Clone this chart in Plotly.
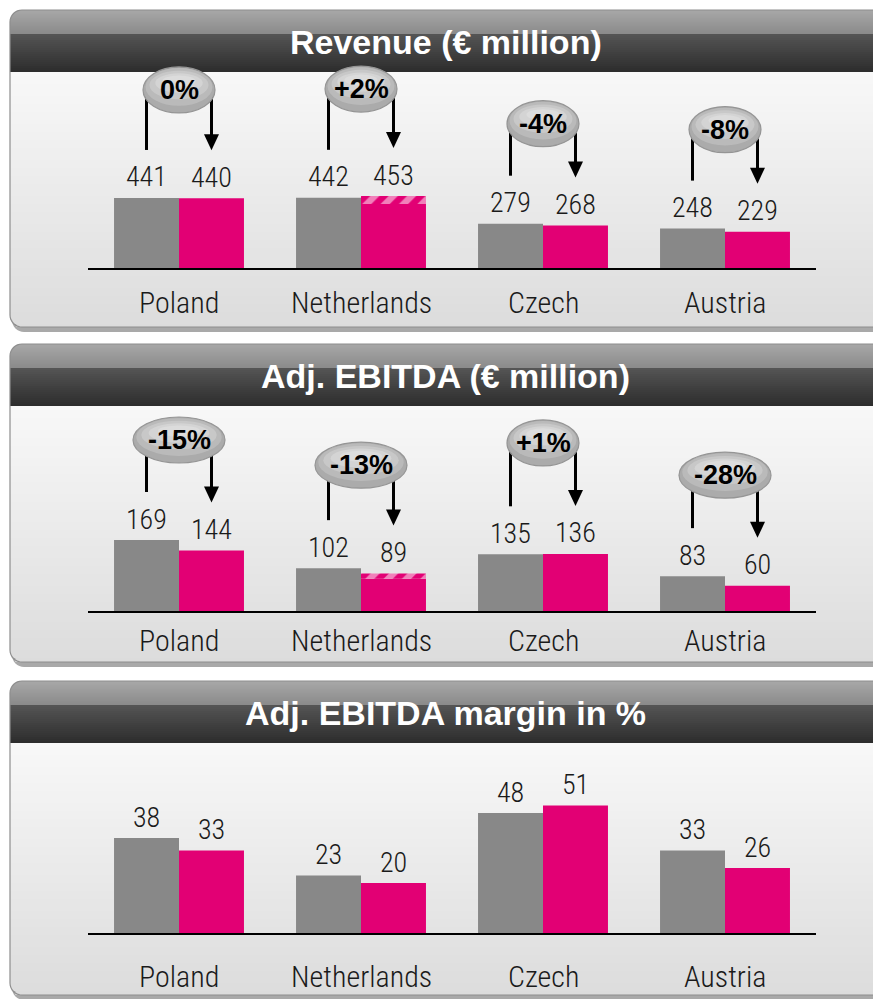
import math
import plotly.graph_objects as go

# ---------------- data ----------------
CATEGORIES = ["Poland", "Netherlands", "Czech", "Austria"]
PANEL_TITLES = ["Revenue (€ million)", "Adj. EBITDA (€ million)", "Adj. EBITDA margin in %"]

REVENUE_PREV = [441, 442, 279, 248]
REVENUE_CURR = [440, 453, 268, 229]
REVENUE_HATCH = [0, 50, 0, 0]
REVENUE_CHANGE = ["0%", "+2%", "-4%", "-8%"]

EBITDA_PREV = [169, 102, 135, 83]
EBITDA_CURR = [144, 89, 136, 60]
EBITDA_HATCH = [0, 12, 0, 0]
EBITDA_CHANGE = ["-15%", "-13%", "+1%", "-28%"]

MARGIN_PREV = [38, 23, 48, 33]
MARGIN_CURR = [33, 20, 51, 26]
MARGIN_HATCH = [0, 0, 0, 0]
MARGIN_CHANGE = None

# ---------------- layout constants ----------------
W, H = 873, 999
GRAY = "#888888"
MAGENTA = "#E20074"
LIGHT = "Roboto Condensed, Liberation Sans, Arial, sans-serif"
SANS = "Liberation Sans, Arial, sans-serif"

X_LEFT, X_RIGHT = 88, 816
HALF = 0.1785          # half of one bar width in category units

PANELS = [
    dict(prev=REVENUE_PREV, curr=REVENUE_CURR, hatch=REVENUE_HATCH, change=REVENUE_CHANGE,
         top=10, split=34, hdr=72, bot=327, base=268, ymax=1310, scale=0.1588,
         cat_shift=-34, lifts=[108, 107, 100, 99]),
    dict(prev=EBITDA_PREV, curr=EBITDA_CURR, hatch=EBITDA_HATCH, change=EBITDA_CHANGE,
         top=344, split=368, hdr=406, bot=662, base=611, ymax=500, scale=0.42,
         cat_shift=-29, lifts=[100, 103, 111, 101]),
    dict(prev=MARGIN_PREV, curr=MARGIN_CURR, hatch=MARGIN_HATCH, change=MARGIN_CHANGE,
         top=681, split=705, hdr=743, bot=995, base=933, ymax=72, scale=2.5,
         cat_shift=-43, lifts=None),
]


def px(x):
    return x / W


def py(y):
    return 1 - y / H


def hex2rgb(h):
    h = h.lstrip("#")
    return [int(h[i:i + 2], 16) for i in (0, 2, 4)]


def mix(c1, c2, t):
    a, b = hex2rgb(c1), hex2rgb(c2)
    return "rgb(%d,%d,%d)" % tuple(round(a[i] + (b[i] - a[i]) * t) for i in range(3))


def rounded_path(x0, y0, x1, y1, r, n=8):
    pts = []
    corners = [(x0 + r, y0 + r, 180, 270), (x1 - r, y0 + r, 270, 360),
               (x1 - r, y1 - r, 0, 90), (x0 + r, y1 - r, 90, 180)]
    for cx, cy, a0, a1 in corners:
        for k in range(n + 1):
            a = math.radians(a0 + (a1 - a0) * k / n)
            pts.append((cx + r * math.cos(a), cy + r * math.sin(a)))
    s = "M %f,%f " % (px(pts[0][0]), py(pts[0][1]))
    s += " ".join("L %f,%f" % (px(x), py(y)) for x, y in pts[1:])
    return s + " Z"


R = 12
XL, XR = 10, 886
shapes = []
annotations = []


def strips(y_start, y_end, c_top, c_bot, step, round_top=False, round_bot=False, top=0, bot=0):
    y = y_start
    while y < y_end - 1e-9:
        y2 = min(y + step, y_end)
        ym = (y + y2) / 2
        inset = 0
        if round_top and ym < top + R:
            d = top + R - ym
            inset = R - math.sqrt(max(R * R - d * d, 0))
        if round_bot and ym > bot - R:
            d = ym - (bot - R)
            inset = R - math.sqrt(max(R * R - d * d, 0))
        t = (ym - y_start) / max(y_end - y_start, 1)
        shapes.append(dict(type="rect", xref="paper", yref="paper", layer="below",
                           x0=px(XL + inset), x1=px(XR), y0=py(y), y1=py(y2),
                           fillcolor=mix(c_top, c_bot, t), line=dict(width=0)))
        y = y2


for p in PANELS:
    # shadow
    shapes.append(dict(type="path", xref="paper", yref="paper", layer="below",
                       path=rounded_path(XL + 2, p["top"] + 5, XR + 2, p["bot"] + 5, R),
                       fillcolor="#a9a9a9", line=dict(width=0)))
    # body
    strips(p["hdr"], p["bot"], "#f8f8f8", "#dcdcdc", 4, round_bot=True, bot=p["bot"])
    # header
    strips(p["top"], p["split"], "#a8a8a8", "#8a8a8a", 1, round_top=True, top=p["top"])
    strips(p["split"], p["hdr"], "#555555", "#2c2c2c", 2)
    # outline
    shapes.append(dict(type="path", xref="paper", yref="paper", layer="below",
                       path=rounded_path(XL, p["top"], XR, p["bot"], R),
                       fillcolor="rgba(0,0,0,0)", line=dict(color="#8e8e8e", width=1.2)))

fig = go.Figure()

for k, p in enumerate(PANELS):
    sfx = "" if k == 0 else str(k + 1)
    xa, ya = "x" + sfx, "y" + sfx
    solid = [c - h for c, h in zip(p["curr"], p["hatch"])]

    fig.add_trace(go.Bar(x=CATEGORIES, y=p["prev"], xaxis=xa, yaxis=ya, offsetgroup="prev",
                         marker=dict(color=GRAY, line=dict(width=0)), hoverinfo="skip",
                         showlegend=False))
    fig.add_trace(go.Bar(x=CATEGORIES, y=solid, xaxis=xa, yaxis=ya, offsetgroup="curr",
                         marker=dict(color=MAGENTA, line=dict(width=0)), hoverinfo="skip",
                         showlegend=False))
    fig.add_trace(go.Bar(x=CATEGORIES, y=p["hatch"], base=solid, xaxis=xa, yaxis=ya,
                         offsetgroup="curr",
                         marker=dict(color=MAGENTA, line=dict(width=0),
                                     pattern=dict(shape="/", fgcolor="white", bgcolor=MAGENTA,
                                                  size=13, solidity=0.5)),
                         hoverinfo="skip", showlegend=False))

    # header title
    annotations.append(dict(xref="paper", yref="paper", x=px(446), y=py(p["top"] + 32),
                            text="<b>%s</b>" % PANEL_TITLES[k], showarrow=False,
                            font=dict(family=SANS, size=34, color="white"),
                            xanchor="center", yanchor="middle"))

    for i, cat in enumerate(CATEGORIES):
        vL, vR = p["prev"][i], p["curr"][i]
        # value labels
        for xv, v in ((i - HALF, vL), (i + HALF, vR)):
            annotations.append(dict(xref=xa, yref=ya, x=xv, y=v, yshift=21, text=str(v),
                                    showarrow=False, xanchor="center", yanchor="middle",
                                    font=dict(family=LIGHT, size=28, color="#1a1a1a",
                                              weight=300)))
        # category labels
        annotations.append(dict(xref=xa, yref=ya, x=i, y=0, yshift=p["cat_shift"], text=cat,
                                showarrow=False, xanchor="center", yanchor="middle",
                                font=dict(family=LIGHT, size=30, color="#1a1a1a", weight=300)))

        if p["change"] is None:
            continue
        vmax = max(vL, vR)
        lift = p["lifts"][i]
        sc = p["scale"]
        # left line (from oval down to left label)
        shapes.append(dict(type="line", xref=xa, yref=ya, x0=i - HALF, x1=i - HALF,
                           ysizemode="pixel", yanchor=vL, y0=48,
                           y1=lift + (vmax - vL) * sc, line=dict(color="black", width=3)))
        # right line + arrow head
        shapes.append(dict(type="line", xref=xa, yref=ya, x0=i + HALF, x1=i + HALF,
                           ysizemode="pixel", yanchor=vR, y0=62,
                           y1=lift + (vmax - vR) * sc, line=dict(color="black", width=3)))
        shapes.append(dict(type="path", xref=xa, yref=ya, xsizemode="pixel", xanchor=i + HALF,
                           ysizemode="pixel", yanchor=vR,
                           path="M -7.5,64 L 7.5,64 L 0,48 Z", fillcolor="black",
                           line=dict(width=0)))
        # oval
        lab = p["change"][i]
        w = 72 if len(lab.strip("+-%")) == 1 else 92
        h = 46
        layers = [(1.0, 1.0, 0, "#ababab"), (0.93, 0.82, 3, "#bababa"),
                  (0.82, 0.62, 5, "#c8c8c8"), (0.66, 0.42, 7, "#d4d4d4"),
                  (0.46, 0.24, 9, "#dcdcdc")]
        for j, (fw, fh, up, col) in enumerate(layers):
            shapes.append(dict(type="circle", xref=xa, yref=ya,
                               xsizemode="pixel", xanchor=i, ysizemode="pixel", yanchor=vmax,
                               x0=-w * fw / 2, x1=w * fw / 2,
                               y0=lift + up - h * fh / 2, y1=lift + up + h * fh / 2,
                               fillcolor=col,
                               line=dict(color="#959595" if j == 0 else col,
                                         width=1.2 if j == 0 else 0)))
        annotations.append(dict(xref=xa, yref=ya, x=i, y=vmax, yshift=lift, text="<b>%s</b>" % lab,
                                showarrow=False, xanchor="center", yanchor="middle",
                                font=dict(family=SANS, size=27, color="black")))

layout = dict(
    width=W, height=H, margin=dict(l=0, r=0, t=0, b=0),
    paper_bgcolor="white", plot_bgcolor="rgba(0,0,0,0)",
    barmode="group", bargap=0.286, bargroupgap=0,
    shapes=shapes, annotations=annotations, showlegend=False,
)
for k, p in enumerate(PANELS):
    sfx = "" if k == 0 else str(k + 1)
    top_px = p["base"] - p["ymax"] * p["scale"]
    layout["xaxis" + sfx] = dict(domain=[px(X_LEFT), px(X_RIGHT)], range=[-0.5, 3.5],
                                 anchor="y" + sfx, showline=True, linecolor="black", linewidth=2,
                                 showticklabels=False, ticks="", showgrid=False, zeroline=False,
                                 fixedrange=True, type="category")
    layout["yaxis" + sfx] = dict(domain=[py(p["base"]), py(top_px)], range=[0, p["ymax"]],
                                 anchor="x" + sfx, visible=False, showgrid=False, zeroline=False,
                                 fixedrange=True)

fig.update_layout(**layout)
fig.write_html("out.html", config={"displayModeBar": False},
               post_script="document.body.style.margin='0';document.body.style.overflow='hidden';")
